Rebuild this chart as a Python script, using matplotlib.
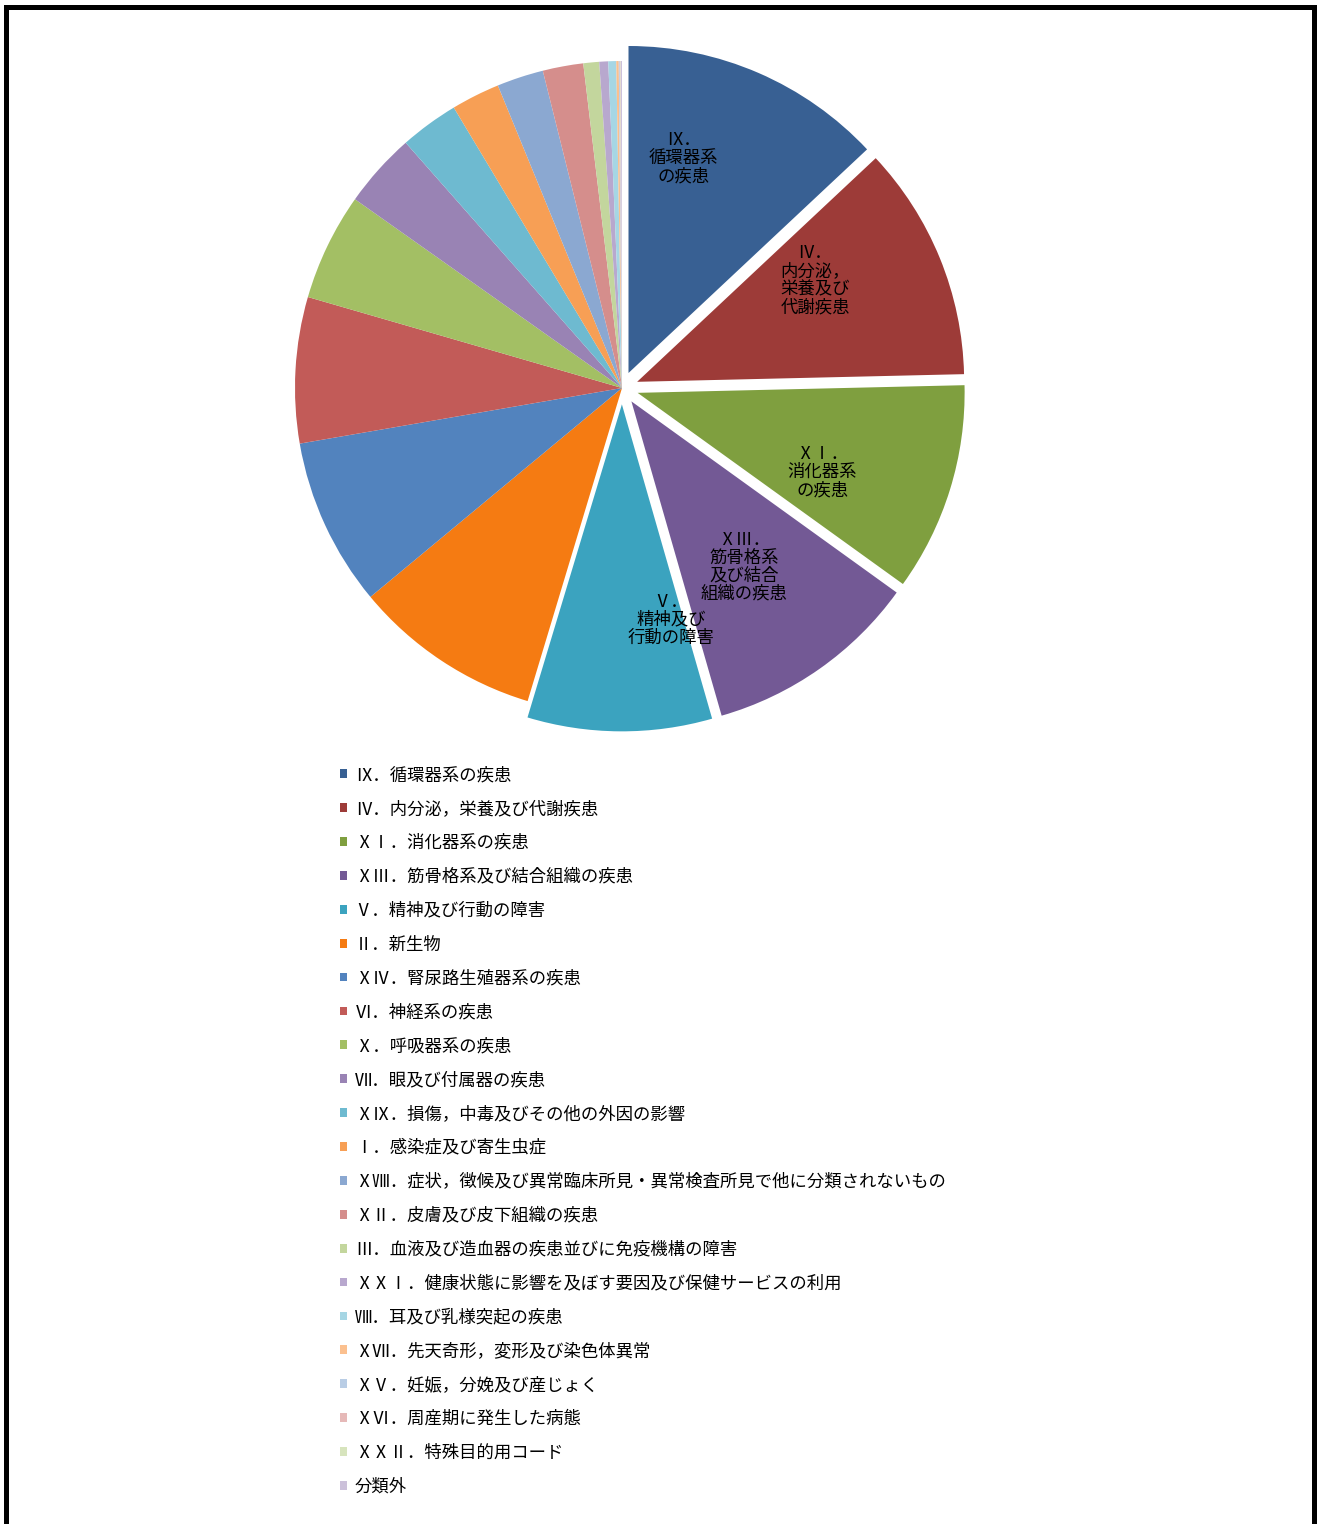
import matplotlib
matplotlib.use("Agg")
import matplotlib.pyplot as plt
from matplotlib.patches import Rectangle

plt.rcParams['font.family'] = ['Noto Sans CJK JP', 'DejaVu Sans']

# 傷病分類別の構成比（%）
categories = [
    "Ⅸ．循環器系の疾患",
    "Ⅳ．内分泌，栄養及び代謝疾患",
    "ⅩⅠ．消化器系の疾患",
    "ⅩⅢ．筋骨格系及び結合組織の疾患",
    "Ⅴ．精神及び行動の障害",
    "Ⅱ．新生物",
    "ⅩⅣ．腎尿路生殖器系の疾患",
    "Ⅵ．神経系の疾患",
    "Ⅹ．呼吸器系の疾患",
    "Ⅶ．眼及び付属器の疾患",
    "ⅩⅨ．損傷，中毒及びその他の外因の影響",
    "Ⅰ．感染症及び寄生虫症",
    "ⅩⅧ．症状，徴候及び異常臨床所見・異常検査所見で他に分類されないもの",
    "ⅩⅡ．皮膚及び皮下組織の疾患",
    "Ⅲ．血液及び造血器の疾患並びに免疫機構の障害",
    "ⅩⅩⅠ．健康状態に影響を及ぼす要因及び保健サービスの利用",
    "Ⅷ．耳及び乳様突起の疾患",
    "ⅩⅦ．先天奇形，変形及び染色体異常",
    "ⅩⅤ．妊娠，分娩及び産じょく",
    "ⅩⅥ．周産期に発生した病態",
    "ⅩⅩⅡ．特殊目的用コード",
    "分類外",
]
shares = [13.0, 11.6, 10.3, 10.6, 9.1, 9.3, 8.3, 7.2, 5.3, 3.7, 2.9,
          2.4, 2.3, 2.0, 0.78, 0.44, 0.39, 0.12, 0.05, 0.03, 0.02, 0.06]

# 円の中に表示するラベル（上位5分類）
slice_labels = [
    "Ⅸ．\n循環器系\nの疾患",
    "Ⅳ．\n内分泌，\n栄養及び\n代謝疾患",
    "ⅩⅠ．\n消化器系\nの疾患",
    "ⅩⅢ．\n筋骨格系\n及び結合\n組織の疾患",
    "Ⅴ．\n精神及び\n行動の障害",
]
# ラベルの位置（円の中心からの x, y、半径=1）
label_pos = [(0.187, 0.703), (0.590, 0.330), (0.612, -0.257),
             (0.373, -0.547), (0.150, -0.709)]

colors = [
    "#386093", "#9D3B38", "#7F9F3F", "#735995", "#3BA3BF", "#F57B12",
    "#5283BE", "#C25B58", "#A3BF64", "#9983B4", "#6EBAD0", "#F79F55",
    "#8BA8D1", "#D58E8C", "#C3D69D", "#B8A8CE", "#A6D6E4", "#FBC08F",
    "#B9CDE5", "#E6B9B8", "#D7E4BD", "#CCC1DA",
]
explode = [0.05] * 5 + [0] * (len(shares) - 5)

W, H = 1320, 1524
fig = plt.figure(figsize=(W / 100, H / 100), dpi=100)

# 円グラフ
r_px = 327
cx, cy = 622, 388
half = 1.1 * r_px
ax = fig.add_axes([(cx - half) / W, (H - cy - half) / H, 2 * half / W, 2 * half / H])
wedges, _ = ax.pie(shares, colors=colors, explode=explode, startangle=90,
                   counterclock=False, wedgeprops=dict(linewidth=0))
ax.set_xlim(-1.1, 1.1)
ax.set_ylim(-1.1, 1.1)
ax.set_aspect('equal')
ax.axis('off')

for text, (x, y) in zip(slice_labels, label_pos):
    ax.text(x, y, text, ha='center', va='center', fontsize=12.5,
            linespacing=1.0, color='black')

# 凡例
fig.legend(wedges, categories, loc='upper left',
           bbox_to_anchor=(340 / W, 1 - 766 / H), frameon=False,
           fontsize=12.5, handlelength=0.4, handleheight=0.4,
           handletextpad=0.45, labelspacing=0.915, borderpad=0, borderaxespad=0)

# 外枠
fig.patches.append(Rectangle((6.5 / W, -0.01), (1314 - 6.5) / W, 1 - 6.5 / H + 0.01,
                             transform=fig.transFigure, fill=False,
                             edgecolor='black', linewidth=3.6))

fig.savefig("out.png", dpi=100, facecolor='white')
